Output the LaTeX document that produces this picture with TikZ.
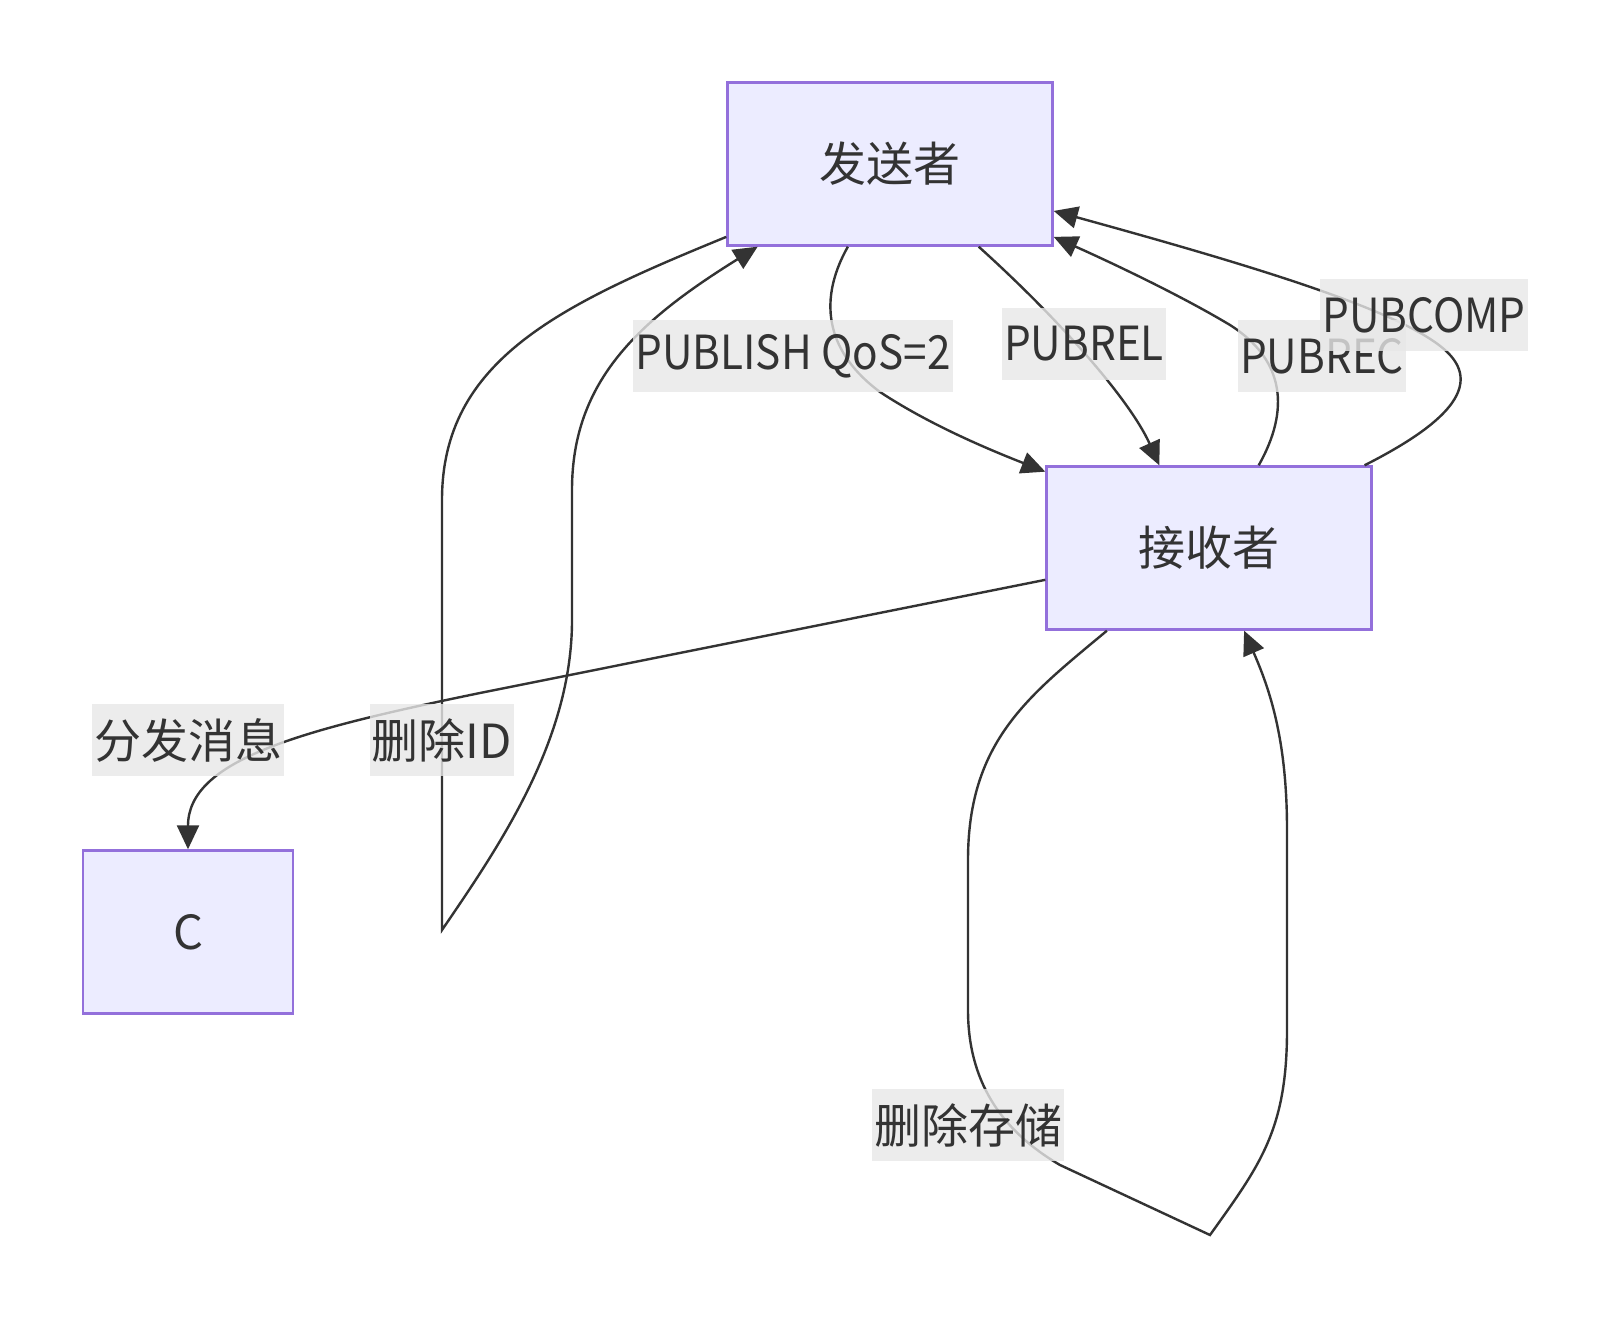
\documentclass[tikz,border=0pt]{standalone}
\usepackage{fontspec}
\usepackage{tikz}
\usetikzlibrary{arrows.meta,positioning}
\newfontfamily\cjk{Noto Sans CJK SC}
\newfontfamily\cjknarrow[FakeStretch=0.9]{Noto Sans CJK SC}
\definecolor{lavender}{HTML}{ECECFF}
\definecolor{violet}{HTML}{9370DB}
\definecolor{ink}{HTML}{333333}
\definecolor{labelgray}{HTML}{E8E8E8}
\tikzset{
  flow/.style={-{Triangle[length=12pt,width=11pt]},line width=1.2pt,color=ink},
}

\begin{document}
\begin{tikzpicture}[x=0.5pt,y=-0.5pt,
  party/.style={rectangle,draw=violet,fill=lavender,line width=1.2pt,
    minimum width=162.5pt,minimum height=81.5pt,text=ink,
    font=\cjk\fontsize{23.5}{28}\selectfont},
  lbl/.style={fill=labelgray,fill opacity=0.8,text opacity=1,text=ink,
    inner xsep=1pt,inner ysep=0pt,minimum height=36pt,
    font=\cjk\fontsize{23.5}{28}\selectfont},
  latinlbl/.style={lbl,font=\cjknarrow\fontsize{23.5}{28}\selectfont}]

  \path[fill=white,use as bounding box] (0,0) rectangle (1611,1320);

  \node[party] (S) at (890,164)  {发送者};
  \node[party] (R) at (1209,548) {接收者};
  \node[party,minimum width=105pt] (C) at (188,932) {C};

  \coordinate (idTurn)    at (442,930);
  \coordinate (storeTurn) at (1210,1235);

  \draw[flow] (S.243) .. controls (815,305) and (830,355) .. (880,392)
    .. controls (930,425) and (990,450) .. (R.155);
  \draw[flow] (S.317) .. controls (1060,320) and (1130,400) .. (R.121);
  \draw[flow] (R.59) .. controls (1290,410) and (1285,360) .. (1230,325)
    .. controls (1180,295) and (1110,262) .. (S.336);
  \draw[flow] (R.28) .. controls (1430,432) and (1490,390) .. (1445,350)
    .. controls (1400,310) and (1250,265) .. (S.344);
  \draw[flow] (S.204) .. controls (560,305) and (442,360) .. (442,500) -- (idTurn)
    .. controls (500,845) and (572,740) .. (572,620) -- (572,490)
    .. controls (572,380) and (640,320) .. (S.212);
  \draw[flow] (R.191) -- (480,693) .. controls (300,730) and (188,760) .. (C.north);
  \draw[flow] (R.219) .. controls (1030,695) and (968,740) .. (968,860) -- (968,1010)
    .. controls (968,1080) and (1000,1130) .. (1060,1165) -- (storeTurn)
    .. controls (1260,1165) and (1287,1130) .. (1287,1030) -- (1287,830)
    .. controls (1287,740) and (1270,690) .. (R.293);

  \node[latinlbl] (lPub)  at (793,356)  {PUBLISH QoS=2};
  \node[latinlbl] (lRel)  at (1084,344) {PUBREL};
  \node[latinlbl] (lRec)  at (1322,356) {PUBREC};
  \node[latinlbl] (lComp) at (1424,315) {PUBCOMP};
  \node[lbl] (lId)    at (442,740)  {删除ID};
  \node[lbl] (lDist)  at (188,740)  {分发消息};
  \node[lbl] (lStore) at (968,1125) {删除存储};
\end{tikzpicture}
\end{document}
